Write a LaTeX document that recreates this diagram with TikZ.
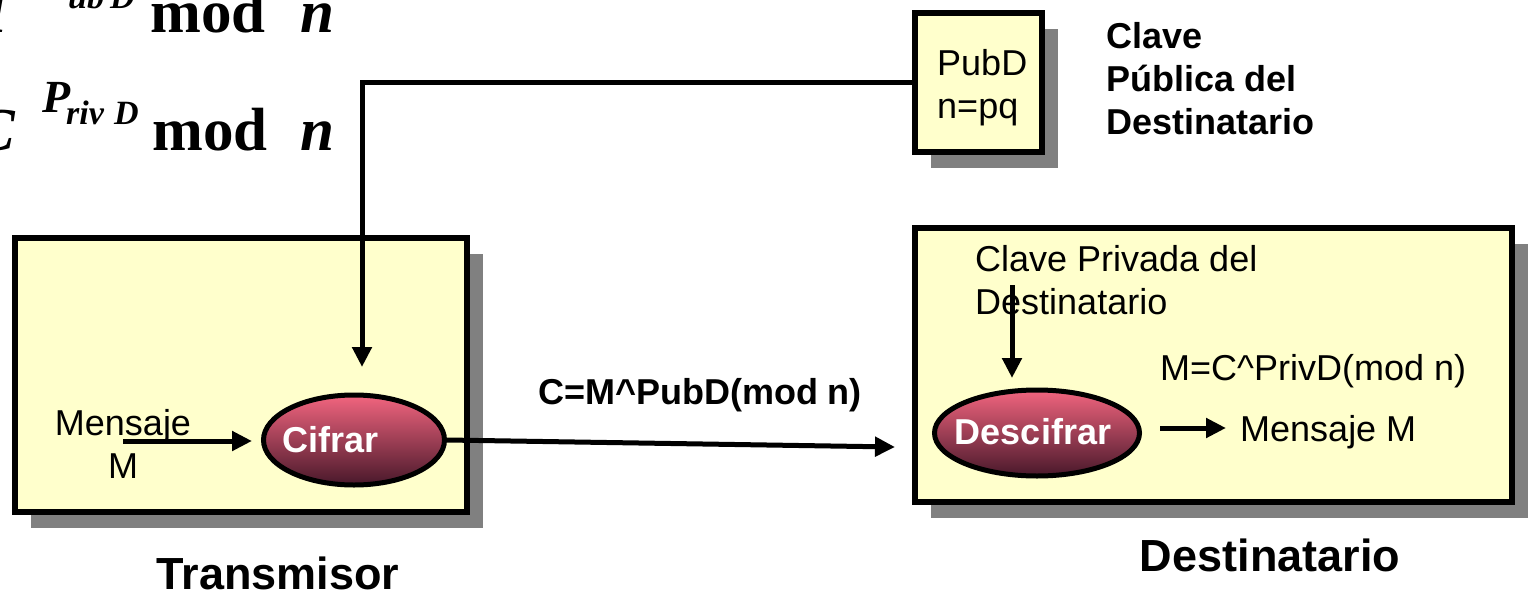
\documentclass[tikz,border=0pt]{standalone}
\usepackage{fontspec}
\setmainfont{Liberation Sans}
\newfontfamily\formserif{Liberation Serif}
\usetikzlibrary{positioning, shapes.geometric, arrows.meta, shadows}

\definecolor{paneyellow}{HTML}{FFFFCC}
\definecolor{shadegray}{HTML}{808080}
\definecolor{ovaltop}{HTML}{F2657F}
\definecolor{ovalbottom}{HTML}{48182A}

\newcommand{\midsize}{\fontsize{36}{43}\selectfont}
\newcommand{\bigsize}{\fontsize{45}{54}\selectfont}

\tikzset{
  panel/.style={draw, line width=6pt, fill=paneyellow, inner sep=0pt,
    drop shadow={shadow xshift=16pt, shadow yshift=-16pt, fill=shadegray, opacity=1}},
  oval/.style={ellipse, draw, line width=5pt, top color=ovaltop, bottom color=ovalbottom, inner sep=0pt},
  ovaltext/.style={text=white, font=\midsize\bfseries, inner sep=0pt},
  flow/.style={-{Triangle[length=20pt, width=19pt]}, line width=5pt},
  plain/.style={font=\midsize, inner sep=0pt},
  heavy/.style={font=\midsize\bfseries, inner sep=0pt},
  formbig/.style={font=\formserif\fontsize{61}{61}\selectfont\bfseries, inner sep=0pt},
  formsup/.style={font=\formserif\fontsize{46}{46}\selectfont\bfseries\itshape, inner sep=0pt},
  formsub/.style={font=\formserif\fontsize{34}{34}\selectfont\bfseries\itshape, inner sep=0pt},
}

\begin{document}
\begin{tikzpicture}[x=1pt, y=-1pt]
  \useasboundingbox (0,0) rectangle (1529,592);

  % Formulas cut by the top left corner
  \node[formbig, anchor=base east] (pubM) at (8,32) {\itshape M};
  \node[formsup, anchor=base west] (pubP) at (42,-4) {P};
  \node[formsub, anchor=base west] (pubub) at (68,8) {ub};
  \node[formsub, anchor=base west] (pubD) at (110,8) {D};
  \node[formbig, anchor=base west] (pubmod) at (150,32) {mod};
  \node[formbig, anchor=base west] (pubn) at (300,32) {\itshape n};
  \node[formbig, anchor=base east] (privC) at (15,150) {\itshape C};
  \node[formsup, anchor=base west] (privP) at (42,112) {P};
  \node[formsub, anchor=base west] (privriv) at (66,124) {riv};
  \node[formsub, anchor=base west] (privD) at (114,124) {D};
  \node[formbig, anchor=base west] (privmod) at (152,150) {mod};
  \node[formbig, anchor=base west] (privn) at (300,150) {\itshape n};

  % Boxes
  \node[panel, minimum width=452pt, minimum height=274pt] (transbox) at (241,375) {};
  \node[panel, minimum width=127pt, minimum height=139pt] (pubbox) at (978,82) {};
  \node[panel, minimum width=597pt, minimum height=274pt] (destbox) at (1213,365) {};

  % Public key
  \node[plain, align=left, anchor=north west] (pubtxt) at (937,49) {PubD\\n=pq};
  \node[heavy, align=left, anchor=north west] (pubtitle) at (1106,22) {Clave\\Pública del\\Destinatario};

  % Transmisor side
  \node[oval, minimum width=181pt, minimum height=90pt] (cifrar) at (354,440) {};
  \node[ovaltext] (cifrartxt) at (331,440) {Cifrar};
  \node[plain, align=center] (msgin) at (123,444) {Mensaje\\M};
  \coordinate (msgstart) at (123,441);
  \draw[flow, shorten >=9pt] (msgstart) -- (cifrar.west |- msgstart);
  \coordinate (keydrop) at (362,367);
  \draw[flow] (pubbox.west) -| (keydrop);

  % Channel
  \coordinate (cipherin) at (895,447);
  \draw[flow] (cifrar.east) -- (cipherin);
  \node[heavy, anchor=base] (cipher) at (700,404) {C=M\textasciicircum PubD(mod n)};

  % Destinatario side
  \node[plain, align=left, anchor=north west] (privtxt) at (975,245) {Clave Privada del\\Destinatario};
  \node[oval, minimum width=205pt, minimum height=86pt] (descifrar) at (1037,433) {};
  \node[ovaltext] (descifrartxt) at (1033,432) {Descifrar};
  \coordinate (privtop) at (1012,285);
  \coordinate (privtip) at (1012,378);
  \draw[flow] (privtop) -- (privtip);
  \node[plain, anchor=base west] (privform) at (1160,380) {M=C\textasciicircum PrivD(mod n)};
  \node[plain, anchor=base west] (msgout) at (1240,441) {Mensaje M};
  \coordinate (outstart) at (1160,428);
  \draw[flow, shorten >=14pt] (outstart) -- (outstart -| msgout.west);

  % Labels under the boxes
  \node[font=\bigsize\bfseries, inner sep=0pt, anchor=base] (translabel) at (278,589) {Transmisor};
  \node[font=\bigsize\bfseries, inner sep=0pt, anchor=base] (destlabel) at (1270,571) {Destinatario};
\end{tikzpicture}
\end{document}
